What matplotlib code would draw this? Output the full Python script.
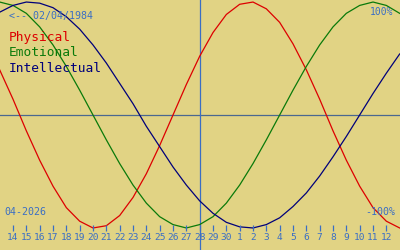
import matplotlib
matplotlib.use("Agg")
import matplotlib.pyplot as plt

# days shown: Apr 13 .. May 13 (index 13..43, day 31 = May 1)
days = list(range(13, 44))
tick_days = list(range(14, 43))
tick_labels = [str(d) for d in range(14, 31)] + [str(d) for d in range(1, 13)]
today = 28

physical = [0.40, 0.14, -0.14, -0.40, -0.63, -0.82, -0.94, -1.00, -0.98, -0.89,
            -0.73, -0.52, -0.27, 0.00, 0.27, 0.52, 0.73, 0.89, 0.98, 1.00,
            0.94, 0.82, 0.63, 0.40, 0.14, -0.14, -0.40, -0.63, -0.82, -0.94, -1.00]
emotional = [1.00, 0.97, 0.90, 0.78, 0.62, 0.43, 0.22, 0.00, -0.22, -0.43,
             -0.62, -0.78, -0.90, -0.97, -1.00, -0.97, -0.90, -0.78, -0.62, -0.43,
             -0.22, 0.00, 0.22, 0.43, 0.62, 0.78, 0.90, 0.97, 1.00, 0.97, 0.90]
intellectual = [0.91, 0.97, 1.00, 0.99, 0.95, 0.87, 0.76, 0.62, 0.46, 0.28,
                0.10, -0.10, -0.28, -0.46, -0.62, -0.76, -0.87, -0.95, -0.99, -1.00,
                -0.97, -0.91, -0.81, -0.69, -0.54, -0.37, -0.19, 0.00, 0.19, 0.37, 0.54]

bg = "#e1d384"
blue = "#3a6ec4"
mono = "DejaVu Sans Mono"

fig = plt.figure(figsize=(4, 2.5), dpi=100, facecolor=bg)
ax = fig.add_axes([0, 0, 1, 1], facecolor=bg)
ax.set_xlim(13.025, 43.025)
ax.set_ylim(-1.195, 1.018)
ax.axis("off")

ax.axhline(0, color="#4a6890", lw=0.9)
ax.axvline(today, color=blue, lw=0.9)

ax.plot(days, physical, color="#dd0000", lw=0.9)
ax.plot(days, emotional, color="#0a7a0a", lw=0.9)
ax.plot(days, intellectual, color="#00007a", lw=0.9)

# day ticks along the bottom
ax.vlines(tick_days, -1.027, -0.973, color=blue, lw=0.9)
for d, lab in zip(tick_days, tick_labels):
    ax.text(d, -1.08, lab, color=blue, fontsize=6.8, family=mono,
            ha="center", va="center")

def px(x, y):
    return x / 400, 1 - y / 250

fig.text(*px(9, 16), "<-- 02/04/1984", color=blue, fontsize=7.2, family=mono, va="center")
fig.text(*px(393, 12), "100%", color=blue, fontsize=7, family=mono, va="center", ha="right")
fig.text(*px(395, 212), "-100%", color=blue, fontsize=7.2, family=mono, va="center", ha="right")
fig.text(*px(4, 212), "04-2026", color=blue, fontsize=7.2, family=mono, va="center")

fig.text(*px(9, 38), "Physical", color="#dd0000", fontsize=9.3, family=mono, va="center")
fig.text(*px(9, 53), "Emotional", color="#0a7a0a", fontsize=9.3, family=mono, va="center")
fig.text(*px(9, 68), "Intellectual", color="#00007a", fontsize=9.3, family=mono, va="center")

fig.savefig("out.png", dpi=100, facecolor=bg)
